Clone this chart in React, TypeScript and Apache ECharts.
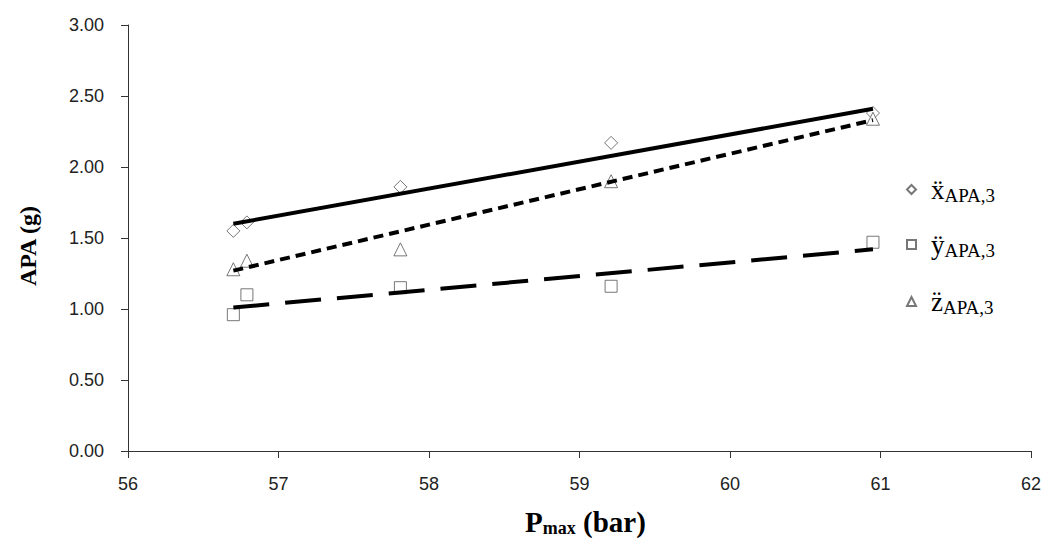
import React, { useEffect, useRef } from "react";
import * as echarts from "echarts";

// Data
const pmax = [56.7, 56.79, 57.81, 59.21, 60.95];
const xAccel = [1.55, 1.61, 1.86, 2.17, 2.38];
const yAccel = [0.96, 1.1, 1.15, 1.16, 1.47];
const zAccel = [1.28, 1.34, 1.42, 1.9, 2.34];
const trendX = [56.7, 60.95];
const xTrend = [1.6, 2.41];
const yTrend = [1.01, 1.42];
const zTrend = [1.27, 2.33];
const seriesNames = ["x", "y", "z"];
const seriesGlyphs = ["\u1E8D", "\u00FF", "z\u0308"];
const subLabel = "APA,3";

const SERIF = "'Liberation Serif', 'Times New Roman', serif";
const SANS = "'Liberation Sans', Arial, sans-serif";

export default function App() {
  const ref = useRef<HTMLDivElement>(null);
  useEffect(() => {
    if (!ref.current) return;
    const chart = echarts.init(ref.current, undefined, { renderer: "svg" });
    const pts = (ys: number[]) => pmax.map((x, i) => [x, ys[i]]);
    const tr = (ys: number[]) => trendX.map((x, i) => [x, ys[i]]);
    const markerStyle = { color: "#fff", borderColor: "#555", borderWidth: 1 };
    const symbols = ["diamond", "rect", "triangle"];
    const vals = [xAccel, yAccel, zAccel];
    const trends = [xTrend, yTrend, zTrend];
    const dashes: any[] = ["solid", [36, 16], [10, 6]];
    const legendTops = [166, 221, 278];
    const rich = {
      m: { fontFamily: SERIF, fontSize: 27, color: "#000", lineHeight: 30, padding: [0, 0, 0, 10] },
      s: { fontFamily: SERIF, fontSize: 19, color: "#000", lineHeight: 30, padding: [12, 0, 0, 0] },
    };
    chart.setOption({
      animation: false,
      backgroundColor: "#fff",
      grid: { left: 118, right: 9, top: 17, bottom: 86 },
      legend: seriesNames.map((n, i) => ({
        data: [n],
        orient: "vertical",
        left: 898,
        top: legendTops[i],
        padding: 0,
        itemWidth: 9,
        itemHeight: 9,
        selectedMode: false,
        formatter: () => `{m|${seriesGlyphs[i]}}{s|${subLabel}}`,
        textStyle: { rich },
      })),
      xAxis: {
        type: "value",
        min: 56,
        max: 62,
        interval: 1,
        name: "{b|P}{s|max}{b| (bar)}",
        nameLocation: "middle",
        nameGap: 55,
        nameTextStyle: {
          padding: [0, 0, 0, 12],
          rich: {
            b: { fontFamily: SERIF, fontSize: 29, fontWeight: "bold", color: "#000", lineHeight: 32 },
            s: { fontFamily: SERIF, fontSize: 18, fontWeight: "bold", color: "#000", lineHeight: 32, padding: [12, 0, 0, 0] },
          },
        },
        axisLine: { lineStyle: { color: "#333", width: 1 } },
        axisTick: { show: true, length: 7, lineStyle: { color: "#333" } },
        axisLabel: { margin: 24, fontFamily: SANS, fontSize: 18, color: "#222" },
        splitLine: { show: false },
      },
      yAxis: {
        type: "value",
        min: 0,
        max: 3,
        interval: 0.5,
        name: "APA (g)",
        nameLocation: "middle",
        nameGap: 88,
        nameTextStyle: { fontFamily: SERIF, fontSize: 24, fontWeight: "bold", color: "#000", padding: [0, 16, 0, 0] },
        axisLine: { show: true, lineStyle: { color: "#333", width: 1 } },
        axisTick: { show: true, length: 7, lineStyle: { color: "#333" } },
        axisLabel: { margin: 24, fontFamily: SANS, fontSize: 18, color: "#222", formatter: (v: number) => v.toFixed(2) },
        splitLine: { show: false },
      },
      series: [
        ...seriesNames.map((n, i) => ({
          name: n,
          type: "scatter",
          symbol: symbols[i],
          symbolSize: i === 1 ? 12 : 13,
          itemStyle: markerStyle,
          data: pts(vals[i]),
          z: 2,
        })),
        ...seriesNames.map((n, i) => ({
          name: n + "-trend",
          type: "line",
          showSymbol: false,
          symbol: "none",
          lineStyle: { color: "#000", width: 4, type: dashes[i] },
          data: tr(trends[i]),
          z: 3,
        })),
      ],
    });
    return () => chart.dispose();
  }, []);
  return <div ref={ref} style={{ width: 1036, height: 534 }} />;
}
